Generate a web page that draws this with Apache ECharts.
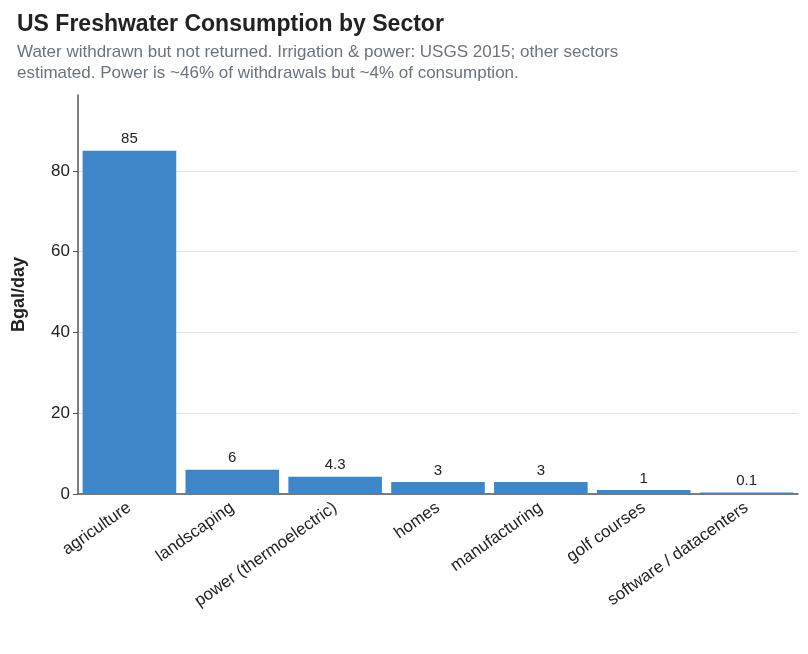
<!DOCTYPE html>
<html><head><meta charset="utf-8">
<script src="https://cdn.jsdelivr.net/npm/echarts@6/dist/echarts.min.js"></script>
<style>html,body{margin:0;padding:0;background:#fff}#c{width:808px;height:654px}</style>
</head><body><div id="c"></div>
<script>
var sectors = ['agriculture', 'landscaping', 'power (thermoelectric)', 'homes', 'manufacturing', 'golf courses', 'software / datacenters'];
var consumption = [85, 6, 4.3, 3, 3, 1, 0.1];
var yTicks = [0, 20, 40, 60, 80];

var chart = echarts.init(document.getElementById('c'));
var font = '"Liberation Sans", Arial, sans-serif';
chart.setOption({
    backgroundColor: '#ffffff',
    animation: false,
    textStyle: { fontFamily: font },
    title: {
        text: 'US Freshwater Consumption by Sector',
        subtext: 'Water withdrawn but not returned. Irrigation & power: USGS 2015; other sectors\nestimated. Power is ~46% of withdrawals but ~4% of consumption.',
        left: 12, top: 8, itemGap: 6,
        textStyle: { fontFamily: font, fontSize: 23, fontWeight: 'bold', color: '#222' },
        subtextStyle: { fontFamily: font, fontSize: 17, color: '#6b7280', lineHeight: 21 }
    },
    grid: { left: 78, right: 10, top: 95, bottom: 160, containLabel: false },
    xAxis: {
        type: 'category',
        data: sectors,
        axisLine: { lineStyle: { color: '#555', width: 1.5 } },
        axisTick: { alignWithLabel: true, lineStyle: { color: '#555' } },
        axisLabel: { rotate: 35, fontSize: 17, color: '#222', interval: 0, margin: 12 }
    },
    yAxis: {
        type: 'value',
        min: 0, max: 98.8, interval: 20,
        name: 'Bgal/day', nameLocation: 'middle', nameGap: 50,
        nameTextStyle: { fontSize: 18, fontWeight: 'bold', color: '#222' },
        axisLine: { show: true, lineStyle: { color: '#555', width: 1.5 } },
        axisTick: { show: true, lineStyle: { color: '#555' } },
        axisLabel: { fontSize: 17, color: '#222', showMaxLabel: false,
            formatter: function (v) { return yTicks.indexOf(v) >= 0 ? v : ''; } },
        splitLine: { showMaxLine: false, lineStyle: { color: '#e2e2e2' } }
    },
    series: [{
        type: 'bar',
        data: consumption,
        barCategoryGap: '9%',
        barMinHeight: 1.5,
        itemStyle: { color: '#3f86c9' },
        label: { show: true, position: 'top', fontSize: 15, color: '#222', distance: 4 }
    }]
});
</script></body></html>
